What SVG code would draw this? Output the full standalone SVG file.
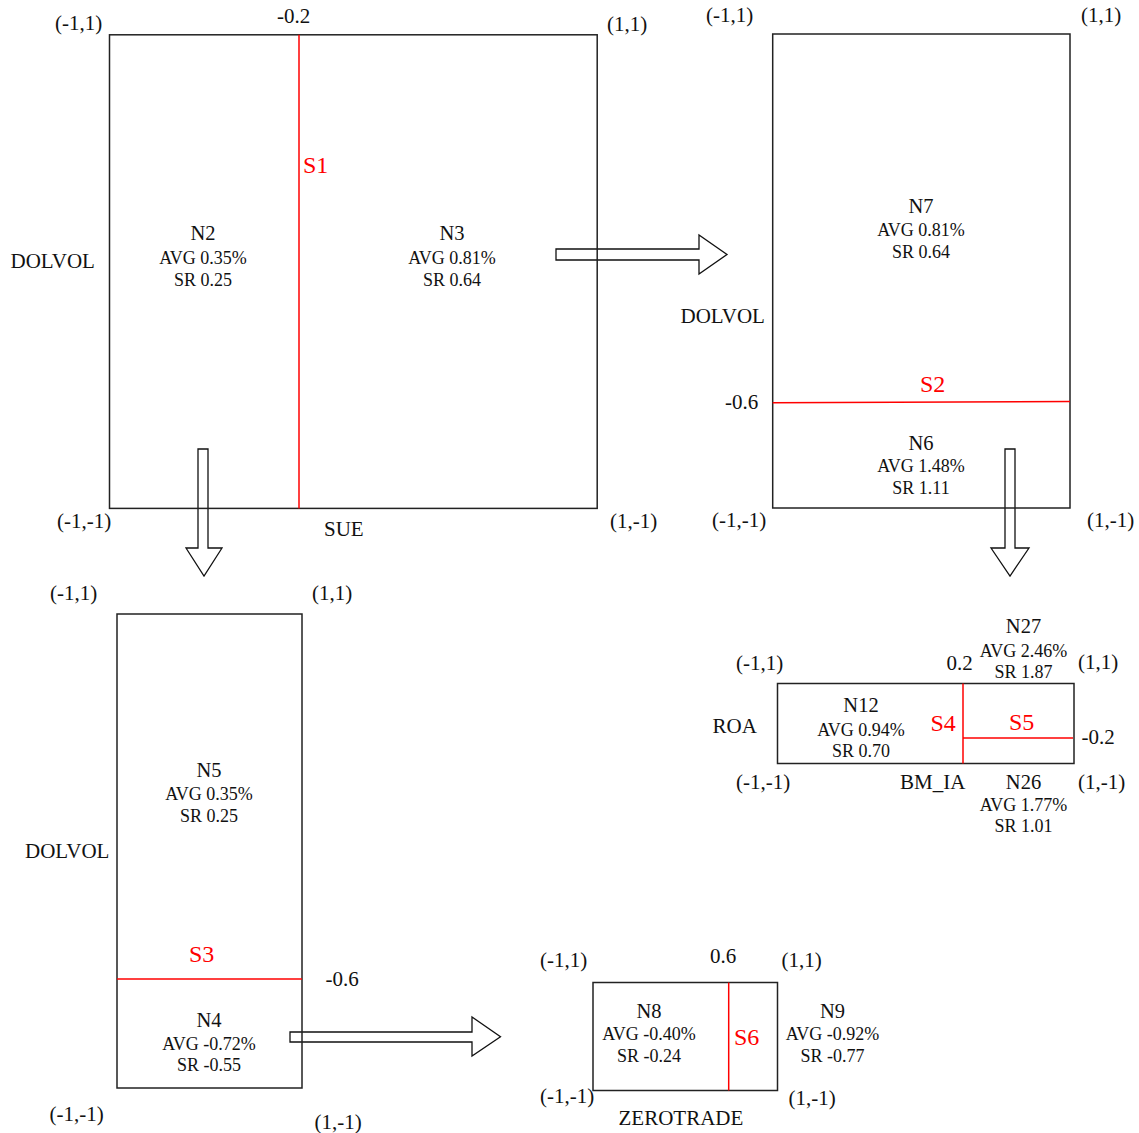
<svg xmlns="http://www.w3.org/2000/svg" width="1139" height="1133" viewBox="0 0 1139 1133">
<style>
text{font-family:"Liberation Serif","Times New Roman",serif;fill:#111}
.ax{font-size:21px}
.n{font-size:20.5px;text-anchor:middle}
.v{font-size:18px;text-anchor:middle}
.s{font-size:24px;fill:#ff0000}
.box{fill:none;stroke:#222;stroke-width:1.5}
.red{stroke:#ff0000;stroke-width:1.5;fill:none}
.arr{fill:#fff;stroke:#111;stroke-width:1.3;stroke-linejoin:miter}
</style>
<rect width="1139" height="1133" fill="#fff"/>
<g id="connectors">
<polygon class="arr" points="556,249 699,249 699,235 727,254.5 699,274 699,260 556,260"/>
<polygon class="arr" points="198,449 208,449 208,548 222,548 204,576 186,548 198,548"/>
<polygon class="arr" points="1005,449 1015,449 1015,548 1029,548 1010,576 991,548 1005,548"/>
<polygon class="arr" points="290,1032 472,1032 472,1017 500.5,1036.7 472,1056 472,1042 290,1042"/>
</g>
<g id="panel1">
<rect class="box" x="109.5" y="34.8" width="487.7" height="473.6"/>
<line class="red" x1="299" y1="34.8" x2="299" y2="508.4"/>
<text class="ax" x="55" y="30">(-1,1)</text>
<text class="ax" x="277" y="23">-0.2</text>
<text class="ax" x="607" y="31">(1,1)</text>
<text class="ax" x="10.5" y="268">DOLVOL</text>
<text class="ax" x="57" y="528">(-1,-1)</text>
<text class="ax" x="324" y="536">SUE</text>
<text class="ax" x="610" y="528">(1,-1)</text>
<text class="s" x="303" y="173">S1</text>
</g>
<g id="N2">
<text class="n" x="203" y="240">N2</text>
<text class="v" x="203" y="264">AVG 0.35%</text>
<text class="v" x="203" y="286">SR 0.25</text>
</g>
<g id="N3">
<text class="n" x="452" y="240">N3</text>
<text class="v" x="452" y="264">AVG 0.81%</text>
<text class="v" x="452" y="286">SR 0.64</text>
</g>
<g id="panel2">
<rect class="box" x="772.7" y="34" width="297.3" height="474"/>
<line class="red" x1="772.7" y1="402.8" x2="1070" y2="401.4"/>
<text class="ax" x="706" y="22">(-1,1)</text>
<text class="ax" x="1081" y="22">(1,1)</text>
<text class="ax" x="680.5" y="323">DOLVOL</text>
<text class="ax" x="725" y="409">-0.6</text>
<text class="ax" x="712" y="527">(-1,-1)</text>
<text class="ax" x="1087" y="527">(1,-1)</text>
<text class="s" x="920" y="392">S2</text>
</g>
<g id="N7">
<text class="n" x="921" y="213">N7</text>
<text class="v" x="921" y="236">AVG 0.81%</text>
<text class="v" x="921" y="258">SR 0.64</text>
</g>
<g id="N6">
<text class="n" x="921" y="450">N6</text>
<text class="v" x="921" y="472">AVG 1.48%</text>
<text class="v" x="921" y="494">SR 1.11</text>
</g>
<g id="panel3">
<rect class="box" x="117" y="614" width="185" height="474"/>
<line class="red" x1="117" y1="979" x2="302" y2="979"/>
<text class="ax" x="50" y="600">(-1,1)</text>
<text class="ax" x="312" y="600">(1,1)</text>
<text class="ax" x="25" y="858">DOLVOL</text>
<text class="ax" x="325.5" y="986">-0.6</text>
<text class="ax" x="49.5" y="1121">(-1,-1)</text>
<text class="ax" x="314.5" y="1129">(1,-1)</text>
<text class="s" x="189" y="962">S3</text>
</g>
<g id="N5">
<text class="n" x="209" y="777">N5</text>
<text class="v" x="209" y="800">AVG 0.35%</text>
<text class="v" x="209" y="822">SR 0.25</text>
</g>
<g id="N4">
<text class="n" x="209" y="1027">N4</text>
<text class="v" x="209" y="1050">AVG -0.72%</text>
<text class="v" x="209" y="1071">SR -0.55</text>
</g>
<g id="panel4">
<rect class="box" x="777.5" y="683.5" width="296.5" height="80"/>
<line class="red" x1="963" y1="683.5" x2="963" y2="763.5"/>
<line class="red" x1="963" y1="738" x2="1073" y2="738"/>
<text class="ax" x="736" y="670">(-1,1)</text>
<text class="ax" x="946.5" y="670">0.2</text>
<text class="ax" x="1078" y="669">(1,1)</text>
<text class="ax" x="712.5" y="733">ROA</text>
<text class="ax" x="1081.5" y="744">-0.2</text>
<text class="ax" x="736" y="789">(-1,-1)</text>
<text class="ax" x="900" y="789">BM_IA</text>
<text class="ax" x="1078" y="789">(1,-1)</text>
<text class="s" x="930.5" y="731">S4</text>
<text class="s" x="1009" y="730">S5</text>
</g>
<g id="N27">
<text class="n" x="1023.5" y="633">N27</text>
<text class="v" x="1023.5" y="656.5">AVG 2.46%</text>
<text class="v" x="1023.5" y="677.5">SR 1.87</text>
</g>
<g id="N12">
<text class="n" x="861" y="712">N12</text>
<text class="v" x="861" y="736">AVG 0.94%</text>
<text class="v" x="861" y="756.5">SR 0.70</text>
</g>
<g id="N26">
<text class="n" x="1023.5" y="789">N26</text>
<text class="v" x="1023.5" y="810.5">AVG 1.77%</text>
<text class="v" x="1023.5" y="831.5">SR 1.01</text>
</g>
<g id="panel5">
<rect class="box" x="593" y="982.5" width="184.5" height="108"/>
<line class="red" x1="728.7" y1="982.5" x2="728.7" y2="1090.5"/>
<text class="ax" x="540" y="967">(-1,1)</text>
<text class="ax" x="710" y="963">0.6</text>
<text class="ax" x="781.5" y="967">(1,1)</text>
<text class="ax" x="540" y="1103">(-1,-1)</text>
<text class="ax" x="788.5" y="1105">(1,-1)</text>
<text class="ax" x="618.5" y="1125">ZEROTRADE</text>
<text class="s" x="734" y="1045">S6</text>
</g>
<g id="N8">
<text class="n" x="649" y="1018">N8</text>
<text class="v" x="649" y="1040">AVG -0.40%</text>
<text class="v" x="649" y="1062">SR -0.24</text>
</g>
<g id="N9">
<text class="n" x="832.5" y="1018">N9</text>
<text class="v" x="832.5" y="1040">AVG -0.92%</text>
<text class="v" x="832.5" y="1062">SR -0.77</text>
</g>
</svg>
